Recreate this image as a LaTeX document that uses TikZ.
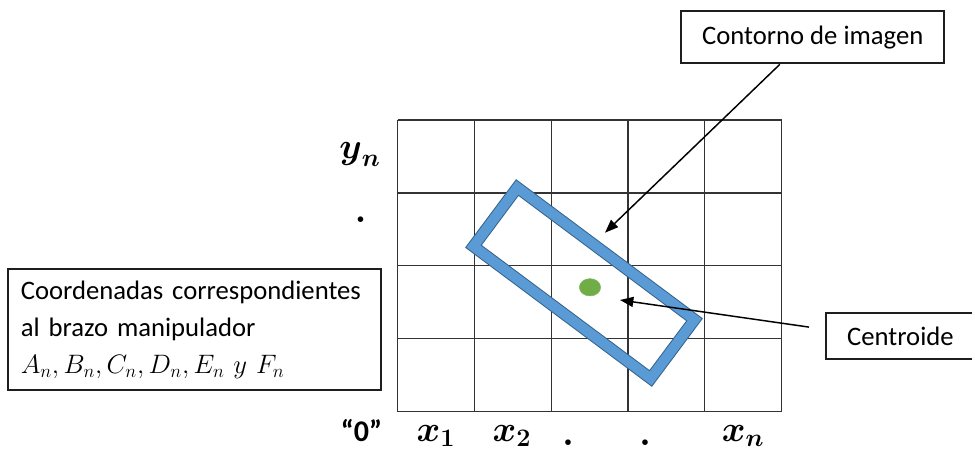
\RequirePackage{fix-cm}
\documentclass[tikz,border=0pt]{standalone}
\usepackage{amsmath}
\usepackage{fontspec}
\newfontfamily\carlito{Carlito}
\usepackage{tikz}
\usetikzlibrary{arrows.meta,shapes.geometric,calc}
\definecolor{contourblue}{RGB}{91,155,213}
\definecolor{contourdark}{RGB}{52,98,140}
\definecolor{centroidgreen}{RGB}{112,173,71}
\definecolor{framegray}{RGB}{30,30,30}

\begin{document}
\begin{tikzpicture}[x=0.75pt,y=-0.75pt,
    txt/.style={font=\carlito\fontsize{20}{29}\selectfont,text=black},
    lbl/.style={draw=framegray,line width=1.5pt,txt,inner sep=0pt},
    axlab/.style={font=\fontsize{27}{30}\selectfont,anchor=base,inner sep=0pt},
    cell/.style={draw=black!80,line width=0.9pt},
    contour/.style={draw=contourdark,line width=0.75pt,double=contourblue,double distance=7.5pt,
                    minimum width=165.8pt,minimum height=55pt,inner sep=0pt},
    dot/.style={ellipse,fill=centroidgreen,draw=centroidgreen!85!white,
                minimum width=16pt,minimum height=13pt,inner sep=0pt},
    arrow/.style={-{Triangle[length=10pt,width=7.5pt]},line width=1.1pt,black}
]
\useasboundingbox (0,0) rectangle (972,455);
% cuadricula
\foreach \i in {0,...,5} \draw[cell] (397.5+\i*76.84,120) -- ++(0,291.7);
\foreach \j in {0,...,4} \draw[cell] (397.5,120+\j*72.93) -- ++(384.2,0);

\node[contour,rotate=-36.7] (ctr) at (584,283) {};
\node[dot] (cg) at (590,287.3) {};

\node[lbl,minimum width=197.3pt,minimum height=39.2pt] (ctn) at (812.7,37.2) {Contorno de imagen};
\node[lbl,minimum width=111.8pt,minimum height=34.7pt] (cen) at (900.4,335.9) {Centroide};
\node[lbl,minimum width=280pt,minimum height=90.8pt,text width=260.5pt,align=left] (crd) at (194.5,329.7)
    {Coordenadas correspondientes\\[-1pt]al brazo manipulador\\[-1pt]$A_n, B_n, C_n, D_n, E_n\ y\ F_n$};

% ejes
\node[axlab] (yn) at (360,158) {$\boldsymbol{y}_{\boldsymbol{n}}$};
\node[axlab] (yd) at (360.7,222.5) {$\boldsymbol{.}$};
\node[txt,font=\carlito\bfseries\fontsize{22.5}{26}\selectfont,anchor=base,inner sep=0pt] (org) at (361.5,441) {“0”};
\node[axlab] (x1) at (436,441) {$\boldsymbol{x}_{\boldsymbol{1}}$};
\node[axlab] (x2) at (512,441) {$\boldsymbol{x}_{\boldsymbol{2}}$};
\node[axlab] (xd1) at (568,445.5) {$\boldsymbol{.}$};
\node[axlab] (xd2) at (645,445.5) {$\boldsymbol{.}$};
\node[axlab] (xn) at (743,441) {$\boldsymbol{x}_{\boldsymbol{n}}$};

\coordinate (ctip) at (605,232.7);
\coordinate (gtip) at (620,300);
\draw[arrow] ($(ctn.south west)!0.376!(ctn.south east)$) -- (ctip);
\draw[arrow,shorten <=12pt] ([yshift=4.9pt]cen.west) -- (gtip);
\end{tikzpicture}
\end{document}
